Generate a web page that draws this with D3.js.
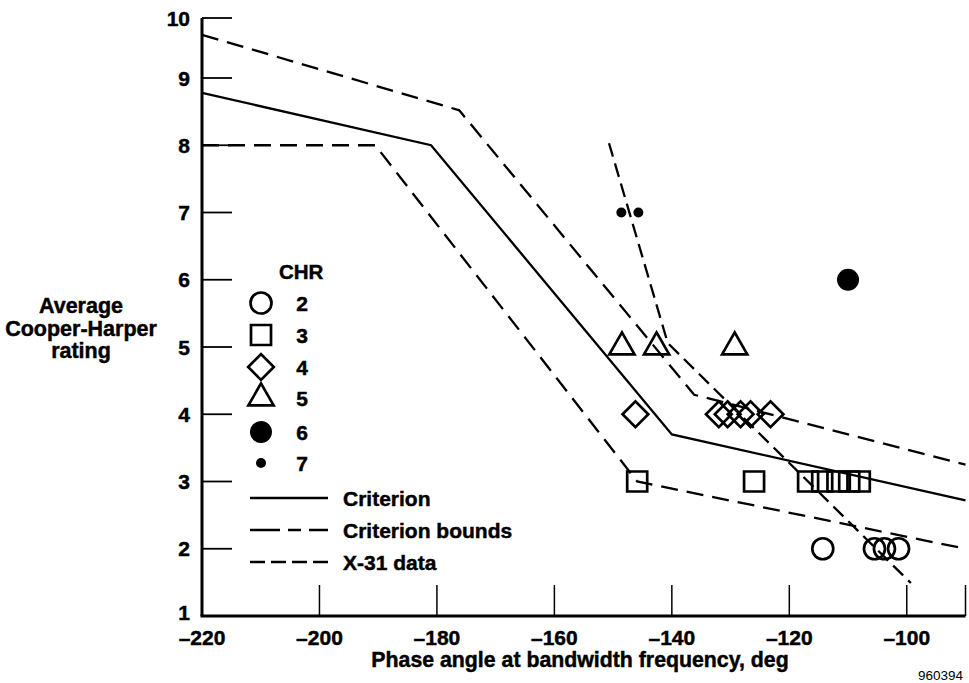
<!DOCTYPE html>
<html>
<head>
<meta charset="utf-8">
<script src="https://cdn.jsdelivr.net/npm/d3@7"></script>
<style>
    body { margin: 0; background: #fff; }
    svg { display: block; font-family: "Liberation Sans", Arial, Helvetica, sans-serif; }
    .bold { font-weight: bold; fill: #000; stroke: #000; stroke-width: 0.45px; }
</style>
</head>
<body>
<svg width="969" height="683"></svg>
<script>
// phase angle (deg) of each run, grouped by CHR level
var phase2 = [-114.3, -105.5, -103.8, -101.4],
    phase3 = [-145.9, -126.0, -116.8, -114.4, -111.8, -109.8, -108.0],
    phase4 = [-146.2, -132.0, -130.5, -128.3, -126.6, -123.2],
    phase5 = [-148.5, -142.6, -129.3],
    phase6 = [-110.0],
    phase7 = [-148.6, -145.7];

var chrLevels = [2, 3, 4, 5, 6, 7];

// lines: [phase, rating]
var criterion = [[-220, 8.78], [-181, 8.0], [-140, 3.7], [-90, 2.72]],
    upperBound = [[-220, 9.72], [-176.2, 8.52], [-136.2, 4.29], [-90, 3.25]],
    lowerBound = [[-220, 8.0], [-190.5, 8.0], [-145.9, 3.0], [-90, 2.0]],
    x31Data = [[-150.7, 8.03], [-140.7, 5.06], [-99.3, 1.49]];

var xTicks = [-220, -200, -180, -160, -140, -120, -100],
    yTicks = [1, 2, 3, 4, 5, 6, 7, 8, 9, 10];

var svg = d3.select("svg");

var x = d3.scaleLinear().domain([-220, -90]).range([202, 965.5]),
    // the scanned axis is a bit squeezed between 9 and 10
    y = d3.scaleLinear().domain([1, 9, 10]).range([616, 78, 18]);

var phases = {2: phase2, 3: phase3, 4: phase4, 5: phase5, 6: phase6, 7: phase7};
var points = [];
chrLevels.forEach(function(c) {
    phases[c].forEach(function(p) {
        points.push({chr: c, phase: p, rating: c});
    });
});

function symbolPath(c) {
    if (c == 2) return d3.symbol(d3.symbolCircle, 346)();
    if (c == 3) return d3.symbol(d3.symbolSquare, 400)();
    if (c == 4) return d3.symbol(d3.symbolSquare, 330)();
    if (c == 5) return d3.symbol(d3.symbolTriangle, 275)();
    if (c == 6) return d3.symbol(d3.symbolCircle, 380)();
    return d3.symbol(d3.symbolCircle, 78)();
}

function drawSymbol(g, c) {
    g.append("path")
        .attr("d", symbolPath(c))
        .attr("transform", c == 4 ? "rotate(45)" : null)
        .attr("fill", c >= 6 ? "#000" : "none")
        .attr("stroke", c >= 6 ? "none" : "#000")
        .attr("stroke-width", 2.7);
}

var line = d3.line()
    .x(function(d) { return x(d[0]); })
    .y(function(d) { return y(d[1]); });

// axes
svg.append("line")
    .attr("x1", x(-220)).attr("x2", x(-220))
    .attr("y1", y(10)).attr("y2", y(1))
    .attr("stroke", "#000").attr("stroke-width", 3);
svg.append("line")
    .attr("x1", x(-220) - 1.5).attr("x2", x(-90))
    .attr("y1", y(1)).attr("y2", y(1))
    .attr("stroke", "#000").attr("stroke-width", 3);

svg.selectAll(".ytick")
    .data(yTicks.filter(function(d) { return d > 1; }))
    .enter().append("line")
    .attr("class", "ytick")
    .attr("x1", x(-220)).attr("x2", x(-220) + 30)
    .attr("y1", function(d) { return y(d); })
    .attr("y2", function(d) { return y(d); })
    .attr("stroke", "#000").attr("stroke-width", 1.8);

svg.selectAll(".xtick")
    .data(xTicks.slice(1).concat([-90]))
    .enter().append("line")
    .attr("class", "xtick")
    .attr("x1", function(d) { return x(d); })
    .attr("x2", function(d) { return x(d); })
    .attr("y1", y(1)).attr("y2", y(1) - 31)
    .attr("stroke", "#000").attr("stroke-width", 1.5);

svg.selectAll(".ylab")
    .data(yTicks)
    .enter().append("text")
    .attr("class", "bold")
    .attr("x", 190)
    .attr("y", function(d) { return d == 1 ? y(d) - 4 : y(d); })
    .attr("dy", "0.36em")
    .attr("text-anchor", "end")
    .style("font-size", "21px")
    .text(function(d) { return d; });

svg.selectAll(".xlab")
    .data(xTicks)
    .enter().append("text")
    .attr("class", "bold")
    .attr("x", function(d) { return x(d); })
    .attr("y", 645)
    .attr("text-anchor", "middle")
    .style("font-size", "21px")
    .text(function(d) { return "\u2013" + Math.abs(d); });

svg.append("text")
    .attr("class", "bold")
    .attr("x", 580)
    .attr("y", 667)
    .attr("text-anchor", "middle")
    .style("font-size", "21.3px")
    .text("Phase angle at bandwidth frequency, deg");

var ytitle = svg.append("text")
    .attr("class", "bold")
    .attr("text-anchor", "middle")
    .style("font-size", "21.5px");
["Average", "Cooper-Harper", "rating"].forEach(function(t, i) {
    ytitle.append("tspan").attr("x", 81).attr("y", 313 + i * 22.5).text(t);
});

svg.append("text")
    .attr("x", 963)
    .attr("y", 680)
    .attr("text-anchor", "end")
    .style("font-size", "13.5px")
    .text("960394");

// criterion and bounds
svg.append("path")
    .attr("d", line(criterion))
    .attr("fill", "none").attr("stroke", "#000").attr("stroke-width", 2.3);
[upperBound, lowerBound].forEach(function(b) {
    svg.append("path")
        .attr("d", line(b))
        .attr("fill", "none").attr("stroke", "#000").attr("stroke-width", 2.3)
        .attr("stroke-dasharray", "17,9");
});
svg.append("path")
    .attr("d", line(x31Data))
    .attr("fill", "none").attr("stroke", "#000").attr("stroke-width", 2.3)
    .attr("stroke-dasharray", "14,7");

// data points
svg.selectAll(".pt")
    .data(points)
    .enter().append("g")
    .attr("class", "pt")
    .attr("transform", function(d) {
        return "translate(" + x(d.phase) + "," + y(d.rating) + ")";
    })
    .each(function(d) { drawSymbol(d3.select(this), d.chr); });

// legend
var legend = svg.append("g");
legend.append("text")
    .attr("class", "bold")
    .attr("x", 279).attr("y", 272).attr("dy", "0.36em")
    .style("font-size", "20.5px")
    .text("CHR");

var rowY = [303, 335, 367, 398, 432, 463];
chrLevels.forEach(function(c, i) {
    var g = legend.append("g")
        .attr("transform", "translate(261," + rowY[i] + ")");
    drawSymbol(g, c);
    legend.append("text")
        .attr("class", "bold")
        .attr("x", 302).attr("y", rowY[i]).attr("dy", "0.36em")
        .attr("text-anchor", "middle")
        .style("font-size", "21px")
        .text(c);
});

var lineKeys = [
    {label: "Criterion", y: 498, dash: null},
    {label: "Criterion bounds", y: 530, dash: "30,8,13,8,19"},
    {label: "X-31 data", y: 562, dash: "15,6"}
];
lineKeys.forEach(function(k) {
    legend.append("line")
        .attr("x1", 250).attr("x2", 328)
        .attr("y1", k.y).attr("y2", k.y)
        .attr("stroke", "#000").attr("stroke-width", 2.5)
        .attr("stroke-dasharray", k.dash);
    legend.append("text")
        .attr("class", "bold")
        .attr("x", 343).attr("y", k.y).attr("dy", "0.36em")
        .style("font-size", "21px")
        .text(k.label);
});
</script>
</body>
</html>
